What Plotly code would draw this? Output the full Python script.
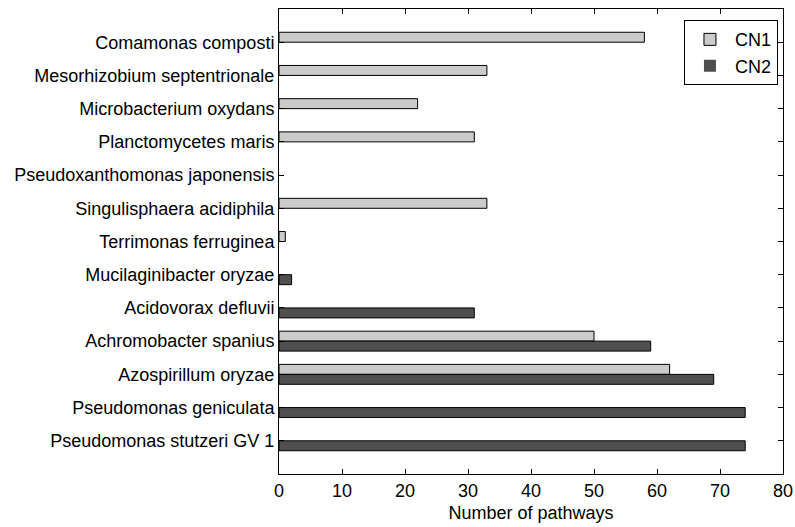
import plotly.graph_objects as go

categories = [
    "Comamonas composti",
    "Mesorhizobium septentrionale",
    "Microbacterium oxydans",
    "Planctomycetes maris",
    "Pseudoxanthomonas japonensis",
    "Singulisphaera acidiphila",
    "Terrimonas ferruginea",
    "Mucilaginibacter oryzae",
    "Acidovorax defluvii",
    "Achromobacter spanius",
    "Azospirillum oryzae",
    "Pseudomonas geniculata",
    "Pseudomonas stutzeri GV 1",
]
cn1 = [58, 33, 22, 31, 0, 33, 1, 0, 0, 50, 62, 0, 0]
cn2 = [0, 0, 0, 0, 0, 0, 0, 2, 31, 59, 69, 74, 74]
x_ticks = [0, 10, 20, 30, 40, 50, 60, 70, 80]

FONT = "Arial, 'Liberation Sans', Helvetica, sans-serif"
FS = 18


def edge_widths(vals):
    return [1 if v != 0 else 0 for v in vals]


fig = go.Figure()
fig.add_trace(go.Bar(
    y=categories, x=cn1, name="CN1", orientation="h",
    marker=dict(color="#cbcbcb", line=dict(color="#000000", width=edge_widths(cn1))),
))
fig.add_trace(go.Bar(
    y=categories, x=cn2, name="CN2", orientation="h",
    marker=dict(color="#4f4f4f", line=dict(color="#000000", width=edge_widths(cn2))),
))

fig.update_layout(
    width=795, height=527,
    margin=dict(l=279, r=12, t=9, b=53, autoexpand=False),
    paper_bgcolor="white", plot_bgcolor="white",
    barmode="group", bargap=0.4, bargroupgap=0,
    font=dict(family=FONT, size=FS, color="#000000"),
    showlegend=True,
    legend=dict(
        x=0.99, xanchor="right", y=0.976, yanchor="top",
        bgcolor="white", bordercolor="#000000", borderwidth=1,
        font=dict(family=FONT, size=FS, color="#000000"),
        itemwidth=40, tracegroupgap=0,
    ),
)
fig.update_xaxes(
    range=[0, 80], tickvals=x_ticks, ticktext=[str(v) for v in x_ticks],
    ticks="inside", ticklen=5, tickcolor="#000000", tickwidth=1,
    showline=True, linecolor="#000000", linewidth=1, mirror="ticks",
    showgrid=False, zeroline=False, automargin=False,
    title=dict(text="Number of pathways", font=dict(family=FONT, size=FS), standoff=6),
    tickfont=dict(family=FONT, size=FS),
)
fig.update_yaxes(
    type="category", categoryorder="array", categoryarray=categories,
    range=[len(categories), -1],
    ticks="inside", ticklen=5, tickcolor="#000000", tickwidth=1,
    showline=True, linecolor="#000000", linewidth=1, mirror="ticks",
    showgrid=False, zeroline=False, automargin=False,
    tickfont=dict(family=FONT, size=FS),
)

fig.write_html("out.html")
